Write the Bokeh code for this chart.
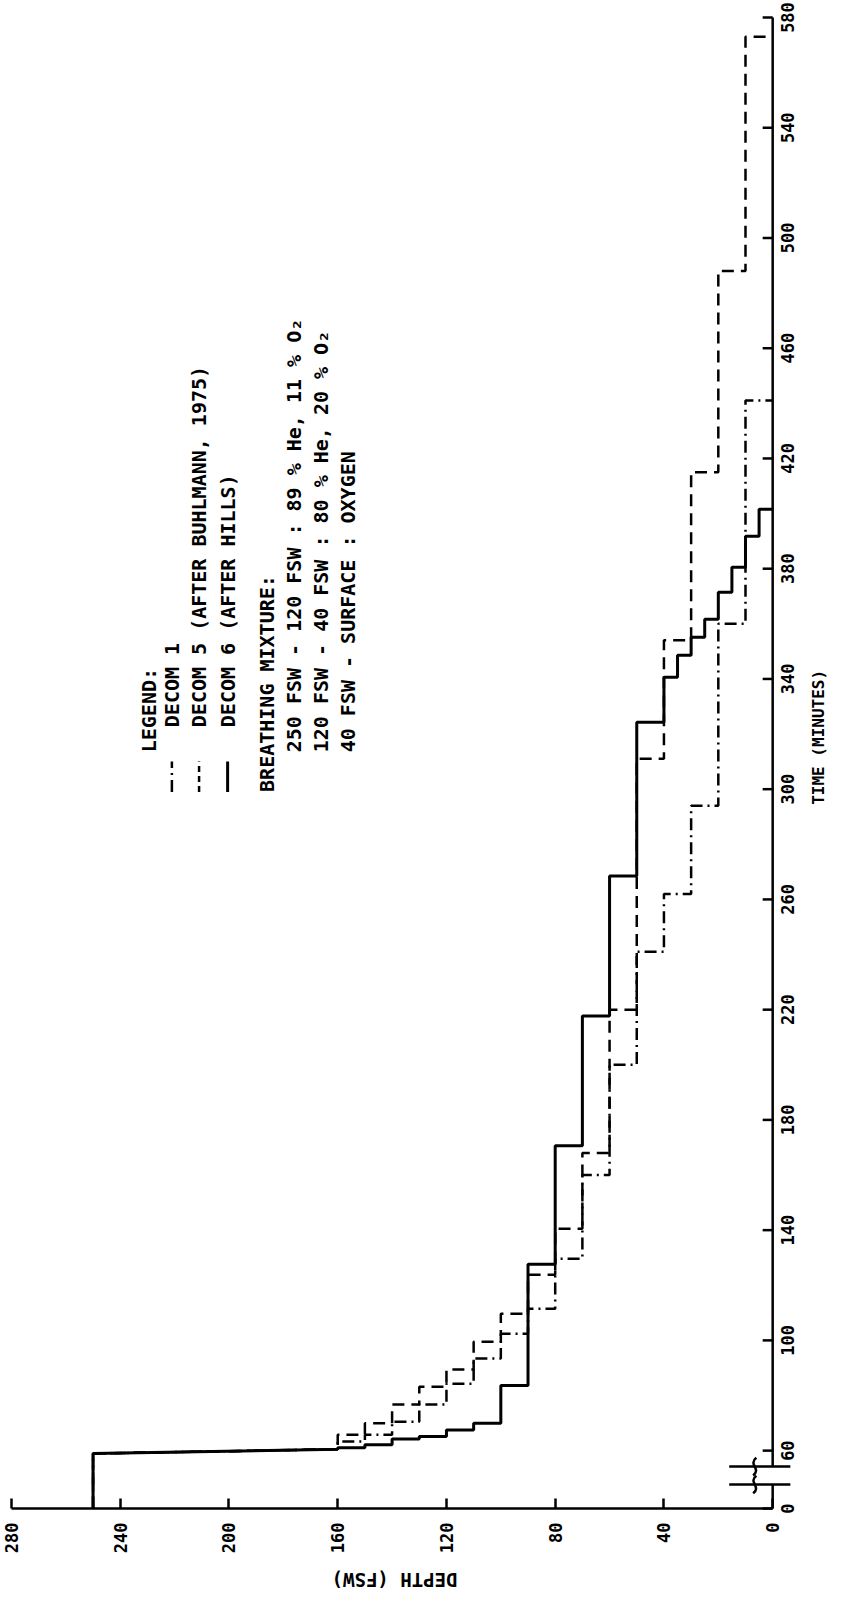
import math
from bokeh.plotting import figure
from bokeh.models import Range1d, FixedTicker, ColumnDataSource
from bokeh.core.properties import value
from bokeh.embed import file_html
from bokeh.resources import INLINE

# ---------------- data ----------------
depth_ticks = [0, 40, 80, 120, 160, 200, 240, 280]
time_ticks = [0, 60, 100, 140, 180, 220, 260, 300, 340, 380, 420, 460, 500, 540, 580]

# stop depths (fsw) and time (min) each stop is left; the last depth is reached at the last time
decom1_depth = [250, 160, 150, 140, 130, 120, 110, 100, 90, 80, 70, 60, 50, 40, 30, 20, 10, 0]
decom1_leave = [57, 63.3, 65.8, 70.5, 76.7, 84.3, 93.4, 102.4, 111.5, 129.6, 160, 200, 241, 262, 294, 360, 441]

decom5_depth = [250, 160, 150, 140, 130, 120, 110, 100, 90, 80, 70, 60, 50, 40, 30, 20, 10, 0]
decom5_leave = [57, 65.8, 69.9, 76.7, 83.2, 89.4, 99.5, 109.7, 123.8, 140.5, 168, 220, 311, 354, 415, 488, 573]

decom6_depth = [250, 160, 150, 140, 130, 120, 110, 100, 90, 80, 70, 60, 50, 40, 35, 30, 25, 20, 15, 10, 5, 0]
decom6_leave = [57, 61, 62.1, 64.2, 65.1, 67.5, 69.9, 83.6, 127.6, 170.6, 217.7, 268.5, 324.3,
                340.6, 348.6, 355.1, 361.7, 371.5, 380.5, 391.8, 401.6]

first_stop_arrival = 60.5  # end of the ascent from the bottom

legend_labels = ["DECOM 1", "DECOM 5 (AFTER BUHLMANN, 1975)", "DECOM 6 (AFTER HILLS)"]
mixture_title = "BREATHING MIXTURE:"
mixture_lines = ["250 FSW - 120 FSW : 89 % He, 11 % O\u2082",
                 "120 FSW -  40 FSW : 80 % He, 20 % O\u2082",
                 " 40 FSW - SURFACE : OXYGEN"]
depth_title = "DEPTH (FSW)"
time_title = "TIME (MINUTES)"

# ---------------- layout constants ----------------
W, H = 833, 1592                 # canvas = frame (axes are drawn inside it)
PX_PER_X, PX_PER_Y = 2.7185, 2.756
X280_PX = 11                     # canvas x of depth 280
BASE_PX = 1508                   # canvas y of the depth axis (time 0)
BREAK_BASE = 39.0                # plotted position of time 0 (axis break below 60 min)
BREAK_LO, BREAK_HI = 47.7, 54.2
X_LEFT = 280 + X280_PX / PX_PER_X
X_RIGHT = 280 - (W - X280_PX) / PX_PER_X
Y_BOTTOM = BREAK_BASE - (H - BASE_PX) / PX_PER_Y
Y_TOP = BREAK_BASE + BASE_PX / PX_PER_Y
FONT = "DejaVu Sans Mono"
TICK_FONT_PX = 17


def tmap(t):
    return t if t >= 60 else BREAK_BASE + t * (60 - BREAK_BASE) / 60.0


def profile_path(depths, leaves, first_arrival):
    ts, ds = [0.0], [depths[0]]
    for i, d in enumerate(depths):
        if i > 0:
            a = first_arrival if i == 1 else leaves[i - 1]
            ts.append(a)
            ds.append(d)
        if i < len(leaves):
            ts.append(leaves[i])
            ds.append(d)
    return [tmap(t) for t in ts], ds


p = figure(frame_width=W, frame_height=H,
           x_range=Range1d(X_LEFT, X_RIGHT), y_range=Range1d(Y_BOTTOM, Y_TOP),
           output_backend="svg", toolbar_location=None, y_axis_location="right",
           min_border_left=0, min_border_right=0, min_border_top=0, min_border_bottom=0,
           background_fill_color="white", border_fill_color="white")
p.grid.visible = False
p.outline_line_color = None

# ---- depth axis (drawn at time 0) ----
xa = p.xaxis[0]
xa.ticker = FixedTicker(ticks=depth_ticks)
xa.fixed_location = BREAK_BASE
xa.bounds = (0, 280)
xa.axis_line_width = 2.5
xa.major_tick_line_width = 2.5
xa.major_tick_in = 10
xa.major_tick_out = 0
xa.minor_tick_line_color = None
xa.major_label_orientation = math.pi / 2
xa.major_label_standoff = 14
xa.major_label_text_font = FONT
xa.major_label_text_font_style = "bold"
xa.major_label_text_font_size = f"{TICK_FONT_PX}px"
xa.major_label_text_color = "black"

# ---- time axis (drawn at depth 0) ----
# rotated labels start at their anchor, so anchor them half a label length lower
adv = 0.602 * TICK_FONT_PX
label_pos = [round(tmap(t) - len(str(t)) * adv / 2.0 / PX_PER_Y, 3) for t in time_ticks]
ya = p.yaxis[0]
ya.ticker = FixedTicker(ticks=label_pos)
ya.major_label_overrides = {lp: str(t) for lp, t in zip(label_pos, time_ticks)}
ya.fixed_location = 0
ya.axis_line_color = None
ya.major_tick_line_color = None
ya.minor_tick_line_color = None
ya.major_label_orientation = math.pi / 2
ya.major_label_standoff = 9
ya.major_label_text_font = FONT
ya.major_label_text_font_style = "bold"
ya.major_label_text_font_size = f"{TICK_FONT_PX}px"
ya.major_label_text_color = "black"

# time-axis line (with break) and its ticks
plotted_ticks = [tmap(t) for t in time_ticks]
tick_len = 10 / PX_PER_X
p.segment(x0=[0, 0], y0=[BREAK_BASE, BREAK_HI], x1=[0, 0], y1=[BREAK_LO, 580],
          line_width=2.5, line_color="black")
p.segment(x0=[0] * len(plotted_ticks), y0=plotted_ticks,
          x1=[tick_len] * len(plotted_ticks), y1=plotted_ticks,
          line_width=2.5, line_color="black")
p.segment(x0=[16, 16], y0=[BREAK_LO, BREAK_HI], x1=[-6.5, -6.5], y1=[BREAK_LO, BREAK_HI],
          line_width=2.5, line_color="black")
for yc in (BREAK_LO, BREAK_HI):
    p.bezier(x0=[7.2], y0=[yc - 3.2], x1=[6.0], y1=[yc + 3.2],
             cx0=[4.0], cy0=[yc - 0.8], cx1=[9.2], cy1=[yc + 0.8],
             line_width=2.5, line_color="black")

# axis titles (rotated like the rest of the page)
p.text(x=[139.1], y=[12.9], text=[depth_title], angle=math.pi,
       text_align="center", text_baseline="middle", text_font=value(FONT),
       text_font_style="bold", text_font_size="19px", text_color="black")
p.text(x=[-17.0], y=[318.8], text=[time_title], angle=math.pi / 2,
       text_align="center", text_baseline="middle", text_font=value(FONT),
       text_font_style="bold", text_font_size="16px", text_color="black")

# ---- profiles ----
t1, d1 = profile_path(decom1_depth, decom1_leave, first_stop_arrival)
t5, d5 = profile_path(decom5_depth, decom5_leave, first_stop_arrival)
t6, d6 = profile_path(decom6_depth, decom6_leave, first_stop_arrival)
p.line(x=d1, y=t1, line_width=2.5, line_color="black", line_dash="12 5 2 5")
p.line(x=d5, y=t5, line_width=2.5, line_color="black", line_dash="12 7")
p.line(x=d6, y=t6, line_width=3, line_color="black")

# ---- legend (rotated, inside the plot area) ----
LEG_FONT = "20px"
leg_depths = [221.0, 211.0, 200.5]
p.text(x=[229.5], y=[313.4], text=["LEGEND:"], angle=math.pi / 2,
       text_align="left", text_baseline="middle", text_font=value(FONT),
       text_font_style="bold", text_font_size=LEG_FONT, text_color="black")
src = ColumnDataSource(dict(x=leg_depths, y=[322.5] * 3, text=legend_labels))
p.text(x="x", y="y", text="text", source=src, angle=math.pi / 2,
       text_align="left", text_baseline="middle", text_font=value(FONT),
       text_font_style="bold", text_font_size=LEG_FONT, text_color="black")
sample_styles = [("12 5 2 5", 2.5), ("6 4", 2.5), ("solid", 3)]
for dd, (dash, w) in zip(leg_depths, sample_styles):
    p.line(x=[dd, dd], y=[299, 310], line_width=w, line_color="black", line_dash=dash)

p.text(x=[186.0], y=[299], text=[mixture_title], angle=math.pi / 2,
       text_align="left", text_baseline="middle", text_font=value(FONT),
       text_font_style="bold", text_font_size=LEG_FONT, text_color="black")
src2 = ColumnDataSource(dict(x=[176.0, 166.2, 156.2], y=[313.4] * 3, text=mixture_lines))
p.text(x="x", y="y", text="text", source=src2, angle=math.pi / 2,
       text_align="left", text_baseline="middle", text_font=value(FONT),
       text_font_style="bold", text_font_size=LEG_FONT, text_color="black")

open("out.html", "w").write(file_html(p, INLINE))
